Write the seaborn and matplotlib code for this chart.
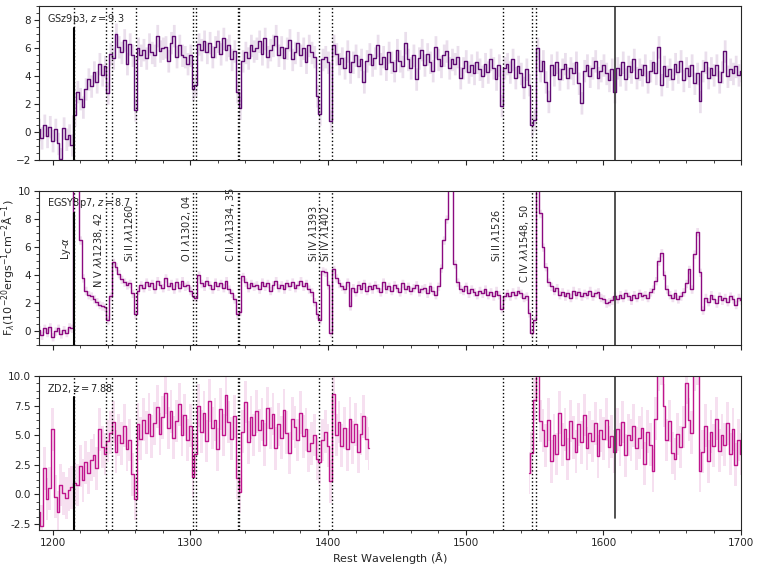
import numpy as np
import pandas as pd
import seaborn as sns
import matplotlib
matplotlib.use('Agg')
import matplotlib.pyplot as plt
from matplotlib.ticker import MultipleLocator, AutoMinorLocator, FormatStrFormatter

# rest-frame wavelength grid (2 A bins)
wave_full = np.arange(1190, 1702, 2)
wave_zd2_blue = np.arange(1190, 1432, 2)
wave_zd2_red = np.arange(1546, 1702, 2)

# GSz9p3 flux (1e-20 erg/s/cm2/A)
flux_gsz9p3 = [
    0.2, -0.4, 0.5, -0.3, 0.4, -0.6, 0.2, -0.8, -1.9, 0.3,
    -0.5, -0.2, -0.9, 1.2, 2.9, 2.4, 1.8, 3.1, 3.8, 3.3,
    4.3, 3.6, 4.9, 4.1, 4.7, 2.8, 5.6, 5.3, 7.0, 6.1,
    5.7, 6.6, 4.9, 6.3, 5.5, 1.6, 6.0, 5.5, 5.9, 5.3,
    6.3, 5.7, 5.5, 6.9, 5.8, 6.0, 6.1, 5.1, 6.4, 6.9,
    5.4, 6.2, 5.5, 5.4, 4.9, 5.5, 3.1, 3.4, 6.3, 5.9,
    6.5, 5.7, 6.4, 5.4, 6.1, 6.5, 5.6, 6.7, 5.9, 6.2,
    5.2, 5.8, 2.9, 1.7, 5.1, 5.7, 5.3, 6.2, 5.8, 6.0,
    6.5, 5.6, 6.7, 5.4, 5.9, 6.2, 6.9, 5.5, 6.1, 5.3,
    6.0, 6.6, 5.2, 5.7, 6.4, 5.5, 6.0, 5.0, 6.2, 5.7,
    5.4, 2.6, 1.3, 5.2, 5.4, 5.0, 0.8, 6.2, 5.6, 4.9,
    5.3, 4.6, 5.8, 4.3, 5.0, 5.5, 4.7, 5.2, 3.6, 5.1,
    5.6, 4.8, 5.3, 6.2, 4.9, 5.4, 4.5, 5.7, 5.0, 4.4,
    5.9, 5.1, 4.7, 6.4, 5.2, 4.6, 5.5, 3.8, 5.3, 5.9,
    4.8, 5.6, 5.0, 4.4, 6.1, 5.2, 4.7, 5.5, 5.8, 4.6,
    5.2, 4.9, 5.4, 3.9, 4.6, 5.1, 4.3, 4.8, 4.2, 5.0,
    4.5, 4.0, 4.9, 4.3, 5.2, 4.6, 3.8, 4.8, 1.9, 4.6,
    4.9, 4.3, 5.2, 3.9, 4.7, 4.2, 3.2, 4.5, 3.4, 0.5,
    0.9, 6.0, 4.4, 5.1, 3.6, 2.2, 4.8, 4.1, 5.0, 3.8,
    4.5, 4.9, 3.9, 4.6, 4.2, 5.0, 3.5, 2.1, 4.4, 4.8,
    4.0, 4.6, 5.1, 3.9, 4.4, 4.8, 4.2, 3.7, 4.5, 2.9,
    4.6, 4.1, 5.0, 3.8, 4.7, 4.3, 5.2, 3.9, 4.5, 4.1,
    4.8, 3.6, 4.4, 5.0, 4.2, 6.1, 3.4, 4.7, 4.0, 4.5,
    3.8, 4.9, 4.3, 5.1, 3.7, 4.6, 4.0, 4.8, 3.5, 4.2,
    2.2, 4.4, 5.0, 3.9, 4.6, 4.1, 4.8, 3.6, 4.3, 5.8,
    4.0, 4.5, 4.2, 4.7, 4.1, 4.4,
]

# EGSY8p7 flux
flux_egsy8p7 = [
    0.1, -0.3, 0.2, -0.1, 0.3, -0.4, 0.0, 0.2, -0.2, 0.1,
    -0.1, 0.3, 0.2, 14.0, 11.0, 6.5, 3.8, 2.9, 2.6, 2.5,
    2.3, 2.1, 1.9, 1.8, 1.7, 0.8, 2.5, 4.9, 4.6, 4.1,
    3.7, 3.5, 3.3, 3.4, 2.7, 1.2, 2.9, 3.3, 3.1, 3.5,
    3.2, 3.4, 3.0, 3.6, 3.3, 3.1, 3.8, 3.2, 3.4, 3.0,
    3.5, 3.1, 3.6, 3.2, 3.3, 2.9, 2.5, 2.4, 4.0, 3.4,
    3.2, 3.6, 3.3, 3.0, 3.5, 3.2, 3.4, 3.1, 3.6, 3.0,
    2.7, 2.3, 1.2, 1.4, 3.9, 3.5, 3.1, 3.4, 3.2, 3.3,
    3.0, 3.5, 3.2, 3.4, 2.9, 3.3, 3.6, 3.1, 3.3, 3.0,
    3.4, 3.2, 3.5, 3.1, 3.3, 3.6, 3.2, 3.4, 3.0, 2.8,
    2.1, 1.2, 0.8, 4.3, 4.2, 3.3, -0.1, 4.4, 3.8, 3.4,
    3.2, 3.0, 3.5, 1.8, 3.1, 2.8, 3.3, 3.0, 3.4, 2.9,
    3.2, 3.0, 3.3, 3.1, 2.8, 3.5, 3.0, 3.2, 2.9, 3.3,
    3.1, 2.8, 3.4, 3.0, 3.2, 2.9, 3.1, 3.3, 2.8, 3.0,
    3.1, 2.7, 3.2, 2.9, 2.6, 3.2, 4.5, 6.5, 8.0, 14.0,
    12.0, 4.8, 3.5, 3.0, 2.9, 3.2, 2.7, 3.0, 2.8, 2.6,
    2.9, 2.7, 3.0, 2.6, 2.8, 2.5, 2.9, 2.6, 1.6, 2.5,
    2.7, 2.5, 2.8, 2.6, 2.9, 2.7, 2.4, 2.5, 1.3, -0.1,
    0.8, 14.0, 8.4, 6.0, 4.6, 3.5, 3.2, 2.9, 3.1, 2.6,
    2.8, 2.5, 2.7, 2.4, 2.9, 2.6, 2.8, 2.5, 2.7, 2.6,
    2.9, 2.5, 2.7, 2.8, 2.4, 2.3, 2.0, 2.1, 2.2, 2.5,
    2.3, 2.6, 2.4, 2.7, 2.5, 2.2, 2.6, 2.4, 2.7, 2.5,
    2.6, 2.4, 2.8, 3.0, 3.6, 5.0, 5.6, 4.0, 3.0, 2.6,
    2.4, 2.7, 2.3, 2.5, 2.8, 3.4, 4.4, 3.0, 5.5, 7.1,
    4.2, 1.5, 2.4, 2.1, 2.6, 2.3, 2.0, 2.5, 2.2, 2.4,
    2.1, 2.5, 2.3, 1.9, 2.4, 2.2,
]

# ZD2 flux, blue part (1190-1430) and red part (1546-1700)
flux_zd2_blue = [
    -1.5, -2.7, 2.2, -0.4, 0.5, 5.5, -0.2, -1.5, 0.8, 0.1,
    -0.3, 0.4, 0.6, 1.0, 0.8, 2.4, 1.2, 2.7, 1.8, 2.9,
    3.3, 2.2, 5.5, 4.0, 3.4, 4.5, 5.2, 6.1, 3.6, 5.0,
    4.3, 5.8, 3.8, 4.6, 1.7, -0.4, 5.9, 4.7, 6.3, 5.2,
    6.8, 4.9, 6.0, 7.4, 5.1, 6.5, 8.6, 5.6, 7.0, 4.8,
    6.2, 7.6, 5.0, 6.7, 4.6, 5.8, 1.5, 3.4, 7.5, 5.3,
    6.9, 4.5, 7.9, 5.6, 6.3, 3.8, 7.2, 5.0, 8.4, 6.1,
    4.7, 6.6, 1.4, 0.2, 5.3, 7.8, 4.4, 6.5, 5.0, 7.0,
    5.4, 6.3, 4.2, 7.3, 5.6, 6.8, 3.9, 5.9, 4.8, 7.1,
    5.2, 3.5, 6.4, 5.7, 4.6, 6.9, 4.9, 5.5, 3.7, 4.3,
    5.0, 3.0, 2.7, 4.6, 5.3, 4.1, 1.1, 8.5, 5.0, 6.1,
    4.1, 5.6, 3.8, 6.4, 4.4, 5.9, 3.6, 5.1, 6.6, 4.7,
    3.9,
]
flux_zd2_red = [
    1.8, 3.5, 8.0, 12.0, 6.2, 5.4, 4.1, 6.3, 2.8, 5.0,
    3.4, 6.9, 4.2, 5.5, 3.0, 6.2, 4.8, 3.6, 5.9, 4.4,
    6.7, 3.9, 5.2, 4.5, 6.0, 3.2, 5.4, 4.7, 6.3, 4.0,
    4.9, 3.6, 5.5, 4.2, 6.1, 3.3, 5.0, 4.6, 5.8, 3.9,
    4.8, 5.6, 2.6, 5.3, 4.2, 2.0, 6.4, 10.5, 11.0, 7.5,
    4.6, 6.2, 3.5, 3.0, 5.1, 4.0, 5.7, 9.4, 6.3, 5.2,
    10.5, 11.0, 2.0, 3.6, 5.8, 2.8, 5.3, 4.1, 6.4, 3.7,
    5.0, 4.2, 6.0, 3.4, 5.5, 2.5, 4.6, 3.4,
]

# typical 1-sigma uncertainty read off the shaded bands
err_gsz9p3 = 0.8
err_egsy8p7 = 0.3
err_zd2 = 1.8

# line markers
line_waves = [1238.82, 1242.80, 1260.42, 1302.17, 1304.37, 1334.53, 1335.71,
              1393.76, 1402.77, 1526.71, 1548.19, 1550.77]
label_waves = [1215.67, 1238.82, 1260.42, 1302.17, 1334.53, 1393.76, 1402.77, 1526.71, 1548.19]
label_texts = [r'Ly-$\alpha$', r'N V $\lambda\lambda$1238, 42', r'Si II $\lambda\lambda$1260',
               r'O I $\lambda$1302, 04', r'C II $\lambda\lambda$1334, 35', r'Si IV $\lambda$1393',
               r'Si IV $\lambda$1402', r'Si II $\lambda$1526', r'C IV $\lambda\lambda$1548, 50']
label_ypos = [5.1, 3.1, 4.9, 4.9, 4.9, 4.9, 4.9, 4.9, 3.4]

lya = 1215.67
fe_line = 1608.45

# Build DataFrames
df_gsz = pd.DataFrame({'wave': wave_full, 'flux': flux_gsz9p3, 'seg': 0})
df_egsy = pd.DataFrame({'wave': wave_full, 'flux': flux_egsy8p7, 'seg': 0})
df_zd2 = pd.concat([
    pd.DataFrame({'wave': wave_zd2_blue, 'flux': flux_zd2_blue, 'seg': 0}),
    pd.DataFrame({'wave': wave_zd2_red, 'flux': flux_zd2_red, 'seg': 1}),
])

panels = [
    (df_gsz, err_gsz9p3, '#5e0b72', r'GSz9p3, $z=9.3$', (-2, 9), 2),
    (df_egsy, err_egsy8p7, '#8c0a80', r'EGSY8p7, $z=8.7$', (-1, 10), 2),
    (df_zd2, err_zd2, '#c0168d', r'ZD2, $z=7.88$', (-3, 10), 2.5),
]

sns.set_style('ticks')
plt.rcParams['font.family'] = ['DejaVu Sans']

fig, axes = plt.subplots(3, 1, figsize=(7.61, 5.68), dpi=100, sharex=True)
fig.subplots_adjust(left=0.051, right=0.974, top=0.989, bottom=0.067, hspace=0.2)

for i, (ax, (df, err, col, title, ylim, ystep)) in enumerate(zip(axes, panels)):
    for seg, d in df.groupby('seg'):
        ax.fill_between(d['wave'], d['flux'] - err, d['flux'] + err, step='mid',
                        color=col, alpha=0.13, lw=0)
    sns.lineplot(data=df, x='wave', y='flux', units='seg', estimator=None,
                 drawstyle='steps-mid', color=col, lw=1.0, ax=ax, legend=False)

    for w in line_waves:
        ax.axvline(w, color='k', ls=':', lw=1)
    ax.axvline(lya, color='k', ls=':', lw=1)
    ax.axvline(lya, ymax=0.86, color='k', lw=1.5)
    ax.axvline(fe_line, ymin=0.08 if i == 2 else 0, color='#333333', lw=1.2)

    ax.text(0.012, 0.92, title, transform=ax.transAxes, fontsize=7, va='center')
    ax.set_xlim(1190, 1700)
    ax.set_ylim(*ylim)
    ax.yaxis.set_major_locator(MultipleLocator(ystep))
    ax.yaxis.set_minor_locator(AutoMinorLocator(4))
    ax.xaxis.set_major_locator(MultipleLocator(100))
    ax.xaxis.set_minor_locator(MultipleLocator(20))
    ax.tick_params(which='major', labelsize=7.5, length=3.5, pad=2)
    ax.tick_params(which='minor', length=2)
    ax.set_xlabel('')
    ax.set_ylabel('')

axes[2].yaxis.set_major_formatter(FormatStrFormatter('%.1f'))

for w, t, y in zip(label_waves, label_texts, label_ypos):
    axes[1].text(w - 0.5, y, t, rotation=90, ha='right', va='bottom', fontsize=7)

axes[1].set_ylabel(r'F$_\lambda$($10^{-20}$ergs$^{-1}$cm$^{-2}$$\mathrm{\AA}^{-1}$)', fontsize=8)
axes[1].yaxis.set_label_coords(-0.03, 0.5)
axes[2].set_xlabel(r'Rest Wavelength ($\mathrm{\AA}$)', fontsize=8, labelpad=2)

fig.savefig('out.png', dpi=100)
